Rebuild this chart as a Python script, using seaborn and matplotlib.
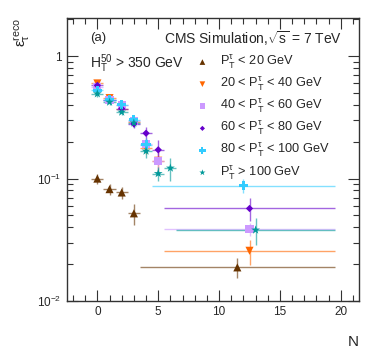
import matplotlib
matplotlib.use("Agg")
import matplotlib.pyplot as plt
from matplotlib.ticker import FixedLocator, MultipleLocator, NullFormatter
import numpy as np
import pandas as pd
import seaborn as sns


# Exclusive bins N = 0..k, followed by one wide overflow bin per series
LABELS = [
    r'$P^{\tau}_{T}$ < 20 GeV',
    r'20 < $P^{\tau}_{T}$ < 40 GeV',
    r'40 < $P^{\tau}_{T}$ < 60 GeV',
    r'60 < $P^{\tau}_{T}$ < 80 GeV',
    r'80 < $P^{\tau}_{T}$ < 100 GeV',
    r'$P^{\tau}_{T}$ > 100 GeV',
]
COLORS = ['#663300', '#ff6600', '#cc99ff', '#6600cc', '#33ccff', '#009999']
MARKERS = ['^', 'v', 's', 'D', 'P', '*']
SIZES = [34, 34, 34, 14, 44, 44]

eff_lt20 = [0.100, 0.082, 0.077, 0.052]
eff_20_40 = [0.60, 0.455, 0.37, 0.29, 0.178, 0.140]
eff_40_60 = [0.56, 0.44, 0.40, 0.295, 0.192, 0.140]
eff_60_80 = [0.578, 0.44, 0.373, 0.28, 0.235, 0.172]
eff_80_100 = [0.526, 0.442, 0.402, 0.303, 0.190]
eff_gt100 = [0.494, 0.422, 0.35, 0.285, 0.168, 0.110, 0.122]

err_lt20 = [0.009, 0.008, 0.009, 0.010]
err_20_40 = [0.03, 0.02, 0.02, 0.02, 0.02, 0.03]
err_40_60 = [0.03, 0.02, 0.02, 0.02, 0.02, 0.03]
err_60_80 = [0.03, 0.02, 0.02, 0.02, 0.03, 0.034]
err_80_100 = [0.03, 0.02, 0.02, 0.025, 0.025]
err_gt100 = [0.025, 0.02, 0.02, 0.02, 0.02, 0.015, 0.026]

# overflow bin: low edge, high edge, efficiency, error
ovf_lo = [3.5, 5.5, 5.5, 5.5, 4.5, 6.5]
ovf_hi = [19.5, 19.5, 19.5, 19.5, 19.5, 19.5]
ovf_eff = [0.0188, 0.0257, 0.0387, 0.057, 0.0877, 0.038]
ovf_err = [0.0035, 0.006, 0.005, 0.012, 0.011, 0.0095]

effs = [eff_lt20, eff_20_40, eff_40_60, eff_60_80, eff_80_100, eff_gt100]
errs = [err_lt20, err_20_40, err_40_60, err_60_80, err_80_100, err_gt100]

if __name__ == "__main__":
    sns.set_style("ticks")
    plt.rcParams['font.family'] = ['Liberation Sans', 'DejaVu Sans']
    plt.rcParams['mathtext.fontset'] = 'custom'
    plt.rcParams['mathtext.rm'] = 'Liberation Sans'
    plt.rcParams['mathtext.it'] = 'Liberation Sans:italic'
    plt.rcParams['mathtext.default'] = 'regular'

    rows = []
    for i, lab in enumerate(LABELS):
        for n, (v, e) in enumerate(zip(effs[i], errs[i])):
            rows.append((lab, n, 0.5, v, e))
        lo, hi = ovf_lo[i], ovf_hi[i]
        rows.append((lab, (lo + hi) / 2, (hi - lo) / 2, ovf_eff[i], ovf_err[i]))
    data = pd.DataFrame(rows, columns=['series', 'N', 'xerr', 'eff', 'err'])

    fig = plt.figure(figsize=(3.74, 3.63), dpi=100)
    ax = fig.add_axes([0.179, 0.171, 0.781, 0.779])

    for i, lab in enumerate(LABELS):
        d = data[data['series'] == lab]
        ax.errorbar(d['N'], d['eff'], xerr=d['xerr'], yerr=d['err'], fmt='none',
                    ecolor=COLORS[i], alpha=0.6, elinewidth=1.0, zorder=2)
        sns.scatterplot(data=d, x='N', y='eff', marker=MARKERS[i], color=COLORS[i],
                        s=SIZES[i], edgecolor='none', label=lab, ax=ax, zorder=3)

    ax.set_yscale('log')
    ax.set_xlim(-2.5, 21.5)
    ax.set_ylim(0.01, 2.05)

    ax.xaxis.set_major_locator(MultipleLocator(5))
    ax.xaxis.set_minor_locator(MultipleLocator(1))
    ax.yaxis.set_major_locator(FixedLocator([0.01, 0.1, 1]))
    ax.set_yticklabels([r'10$^{-2}$', r'10$^{-1}$', '1'])
    ax.yaxis.set_minor_locator(FixedLocator(
        [k * 10.0 ** p for p in (-2, -1, 0) for k in range(2, 10)]))
    ax.yaxis.set_minor_formatter(NullFormatter())
    ax.tick_params(which='both', direction='in', top=True, right=True,
                   labelsize=8.5, width=0.8, color='#333333')
    ax.tick_params(which='major', length=8, pad=4)
    ax.tick_params(which='minor', length=4)
    for sp in ax.spines.values():
        sp.set_linewidth(1.0)
        sp.set_color('#333333')

    ax.set_xlabel('N', loc='right', fontsize=11, labelpad=12)
    ax.set_ylabel(r'$ε^{reco}_{τ}$', loc='top', fontsize=11, labelpad=4)

    ax.legend(loc='upper left', bbox_to_anchor=(0.42, 0.893), frameon=False,
              fontsize=9.2, handletextpad=0.8, labelspacing=0.36,
              borderaxespad=0, handlelength=1.2, markerscale=0.7)

    fig.text(0.24, 0.895, '(a)', fontsize=9.5, va='center')
    fig.text(0.915, 0.895, r'CMS Simulation,$\sqrt{s}$ = 7 TeV', fontsize=10,
             ha='right', va='center')
    fig.text(0.24, 0.825, r'$H^{50}_{T}$ > 350 GeV', fontsize=10, va='center')

    fig.savefig('out.png', dpi=100)
